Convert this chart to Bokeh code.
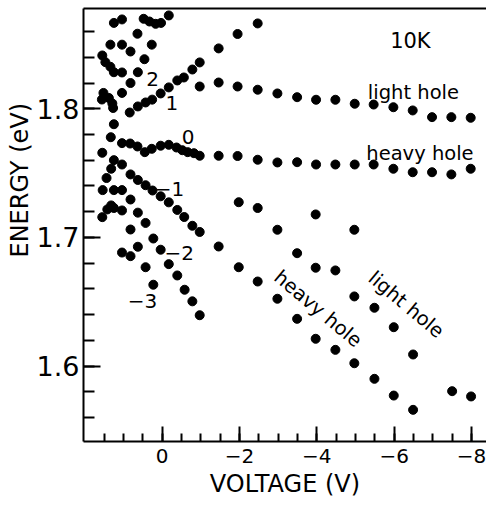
import numpy as np
from bokeh.plotting import figure
from bokeh.models import Range1d, FixedTicker, Label, LinearAxis, Title
from bokeh.embed import file_html
from bokeh.resources import INLINE

# ---------------- data (voltage in V, energy in eV) ----------------
# flat light-hole (0) transition
lh0_v = [-0.97, -1.46, -1.95, -2.47, -2.98, -3.49, -3.98, -4.48, -4.98, -5.47, -5.98, -6.48, -6.98, -7.48, -7.98]
lh0_e = [1.8173, 1.8204, 1.8173, 1.8148, 1.8119, 1.8090, 1.8070, 1.8070, 1.8039, 1.8033, 1.8012, 1.7987, 1.7935, 1.7935, 1.7930]

# flat heavy-hole (0) transition, including the "0" branch at low bias
hh0_v = [1.04, 0.83, 0.64, 0.45, 0.27, 0.04, -0.17, -0.37, -0.52, -0.66, -0.82,
         -0.97, -1.46, -1.95, -2.47, -2.98, -3.49, -3.98, -4.48, -4.98, -5.47, -5.98, -6.48, -6.98, -7.48, -7.98]
hh0_e = [1.7733, 1.7730, 1.7707, 1.7663, 1.7689, 1.7713, 1.7720, 1.7699, 1.7678, 1.7663, 1.7655,
         1.7635, 1.7635, 1.7633, 1.7604, 1.7583, 1.7585, 1.7567, 1.7567, 1.7567, 1.7567, 1.7534, 1.7507, 1.7507, 1.7490, 1.7534]

# "+1" branch
br1_v = [0.84, 0.63, 0.43, 0.26, 0.04, -0.17, -0.39, -0.56, -0.78, -0.97, -1.46, -1.95, -2.47]
br1_e = [1.7971, 1.8018, 1.8049, 1.8071, 1.8119, 1.8166, 1.8220, 1.8243, 1.8305, 1.8360, 1.8469, 1.8581, 1.8663]

# upper fan ("+2" and higher) near flat band
fan_up_v = [1.25, 1.04, 0.48, 0.33, 0.17, 0.03, -0.17, 0.64, 1.34, 1.04, 0.82, 0.27, 1.55, 1.47, 1.34, 1.25,
            1.04, 0.46, 0.63, 0.82, 1.04, 1.52, 1.56, 1.38, 1.29, 1.27, 1.25, 1.33, 1.55]
fan_up_e = [1.8667, 1.8694, 1.8699, 1.8678, 1.8660, 1.8667, 1.8725, 1.8583, 1.8498, 1.8498, 1.8445, 1.8498, 1.8414, 1.8362, 1.8326, 1.8284,
            1.8282, 1.8385, 1.8284, 1.8200, 1.8123, 1.8123, 1.8072, 1.8084, 1.8041, 1.8006, 1.7880, 1.7779, 1.7658]

# "-1" heavy-hole branch
brm1_v = [1.04, 0.82, 0.63, 0.43, 0.25, 0.04, -0.17, -0.39, -0.57, -0.78, -0.97, -1.46, -1.98, -2.47, -2.98,
          -3.49, -3.97, -4.48, -4.97, -5.49, -5.99, -6.49]
brm1_e = [1.7567, 1.7490, 1.7447, 1.7406, 1.7365, 1.7320, 1.7273, 1.7214, 1.7159, 1.7091, 1.7043, 1.6930, 1.6769, 1.6658, 1.6524,
          1.6368, 1.6213, 1.6127, 1.6023, 1.5902, 1.5772, 1.5661]

# "-1" light-hole branch
lhm1_v = [-1.98, -2.47, -2.98, -3.49, -3.97, -4.48, -4.97, -5.49, -5.99, -6.49, -7.50, -7.99, -3.97, -4.97]
lhm1_e = [1.7274, 1.7229, 1.7060, 1.6878, 1.6765, 1.6744, 1.6542, 1.6454, 1.6303, 1.6091, 1.5806, 1.5765, 1.7179, 1.7060]

# "-2" branch
brm2_v = [0.63, 0.43, 0.23, 0.04, -0.17, -0.39, -0.58, -0.78, -0.97]
brm2_e = [1.7193, 1.7113, 1.6992, 1.6905, 1.6793, 1.6705, 1.6594, 1.6504, 1.6396]

# lower fan ("-3" and others) at positive bias
fan_low_v = [1.25, 1.32, 1.44, 1.54, 1.25, 1.04, 0.82, 1.55, 1.42, 1.32, 1.25, 1.04, 0.82, 1.04, 0.82, 0.63, 0.43, 0.23]
fan_low_e = [1.7601, 1.7534, 1.7462, 1.7368, 1.7368, 1.7368, 1.7295, 1.7158, 1.7218, 1.7249, 1.7229, 1.7210, 1.7062,
             1.6883, 1.6855, 1.6928, 1.6769, 1.6633]

x_ticks = [0, -2, -4, -6, -8]
x_tick_labels = ["0", "\u22122", "\u22124", "\u22126", "\u22128"]
y_ticks = [1.6, 1.7, 1.8]
y_tick_labels = ["1.6", "1.7", "1.8"]

# ---------------- figure ----------------
X_START, X_END = 2.036, -8.389
Y_START, Y_END = 1.5415, 1.8779
FONT = "DejaVu Sans"

p = figure(width=486, height=505, output_backend="svg", toolbar_location=None,
           title_location=None,
           x_range=Range1d(X_START, X_END), y_range=Range1d(Y_START, Y_END),
           min_border_left=83, min_border_right=0, min_border_top=8, min_border_bottom=64)
p.grid.visible = False
p.outline_line_color = None
p.background_fill_color = "white"
p.border_fill_color = "white"

xa = p.xaxis[0]
ya = p.yaxis[0]
xa.ticker = FixedTicker(ticks=x_ticks, minor_ticks=[float(v) for v in np.arange(-8.0, 1.6, 0.5)])
ya.ticker = FixedTicker(ticks=y_ticks, minor_ticks=[round(float(v), 2) for v in np.arange(1.56, 1.861, 0.02)])
xa.major_label_overrides = {t: l for t, l in zip(x_ticks, x_tick_labels)}
ya.major_label_overrides = {t: l for t, l in zip(y_ticks, y_tick_labels)}

for ax in (xa, ya):
    ax.axis_line_width = 2
    ax.axis_line_color = "black"
    ax.major_tick_line_width = 2
    ax.minor_tick_line_width = 2
    ax.major_tick_line_color = "black"
    ax.minor_tick_line_color = "black"
    ax.major_tick_out = 0
    ax.minor_tick_out = 0
    ax.major_label_text_font = FONT
    ax.major_label_text_color = "black"

xa.major_tick_in = 15
xa.minor_tick_in = 8
xa.major_label_text_font_size = "20px"
xa.major_label_standoff = 7
xa.axis_label = "VOLTAGE (V)"
xa.axis_label_text_font = FONT
xa.axis_label_text_font_size = "24px"
xa.axis_label_text_font_style = "normal"
xa.axis_label_text_color = "black"
xa.axis_label_standoff = 4

ya.major_tick_in = 17
ya.minor_tick_in = 11
ya.major_label_text_font_size = "27px"
ya.major_label_standoff = 4

# top frame line
top_axis = LinearAxis(ticker=FixedTicker(ticks=[]), axis_line_width=2, axis_line_color="black",
                      major_tick_in=0, major_tick_out=0, minor_tick_in=0, minor_tick_out=0,
                      major_label_text_font_size="0px", major_label_standoff=0)
p.add_layout(top_axis, "above")

# y axis title, placed higher than centre as in the reference
p.add_layout(Title(text="ENERGY (eV)", align="left", offset=184, text_font=FONT,
                   text_font_size="24px", text_font_style="normal", text_color="black",
                   standoff=0), "left")

for xs, ys in [(lh0_v, lh0_e), (hh0_v, hh0_e), (br1_v, br1_e), (fan_up_v, fan_up_e),
               (brm1_v, brm1_e), (lhm1_v, lhm1_e), (brm2_v, brm2_e), (fan_low_v, fan_low_e)]:
    p.scatter(xs, ys, marker="circle", size=9, color="black")

def lab(text, x, y, size, angle=0.0, align="center", baseline="middle"):
    p.add_layout(Label(x=x, y=y, text=text, angle=angle, text_font=FONT, text_font_size=size,
                       text_color="black", text_align=align, text_baseline=baseline))

lab("10K", -6.42, 1.8524, "21px")
lab("light hole", -5.32, 1.8129, "19.5px", align="left", baseline="alphabetic")
lab("heavy hole", -5.28, 1.7655, "19.5px", align="left", baseline="alphabetic")
lab("heavy hole", -4.03, 1.6446, "19.5px", angle=-0.698)
lab("light hole", -6.31, 1.6478, "19.5px", angle=-0.698)
lab("2", 0.25, 1.8228, "20px")
lab("1", -0.25, 1.8045, "20px")
lab("0", -0.67, 1.7779, "20px")
lab("\u22121", -0.19, 1.7378, "20px")
lab("\u22122", -0.44, 1.6876, "20px")
lab("\u22123", 0.51, 1.6510, "20px")

open("out.html", "w").write(file_html(p, INLINE))
